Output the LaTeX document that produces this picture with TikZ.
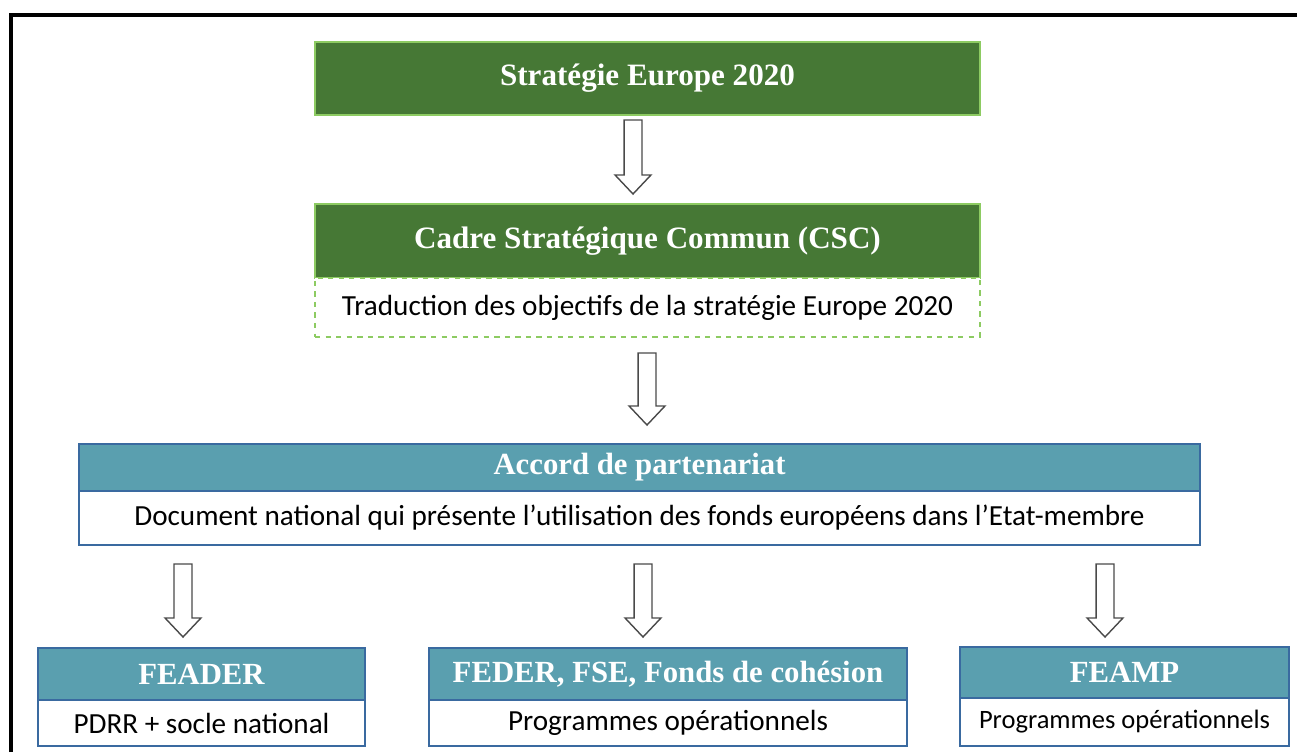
\documentclass[tikz,border=0pt]{standalone}
\usepackage{fontspec}
\setmainfont{Liberation Serif}
\newfontfamily\bodyfont{Carlito}
\usepackage{tikz}
\usetikzlibrary{calc}

\definecolor{darkgreen}{HTML}{467835}
\definecolor{lightgreen}{HTML}{8DCB62}
\definecolor{tealhead}{HTML}{5A9FAF}
\definecolor{boxblue}{HTML}{3A6AA0}
\definecolor{arrowgray}{HTML}{4A4A4A}

% hollow block arrow between two named coordinates
\newcommand{\hollowarrow}[2]{%
  \draw[hollow] let \p1=(#1), \p2=(#2) in
    (\x1-5.1pt,\y1) -- (\x1+5.1pt,\y1) -- (\x1+5.1pt,\y2+10.8pt)
    -- (\x1+10.2pt,\y2+10.8pt) -- (\x2,\y2) -- (\x1-10.2pt,\y2+10.8pt)
    -- (\x1-5.1pt,\y2+10.8pt) -- cycle;}

\begin{document}
\begin{tikzpicture}[x=0.02cm, y=-0.02cm,
    greenhead/.style={draw=lightgreen, line width=0.8pt, fill=darkgreen, text=white,
      font=\fontsize{17.7}{20}\selectfont\bfseries, inner sep=0pt},
    tealhead/.style={draw=boxblue, line width=0.8pt, fill=tealhead, text=white,
      font=\fontsize{17.5}{20}\selectfont\bfseries, inner sep=0pt},
    bluebody/.style={draw=boxblue, line width=0.8pt, fill=white,
      font=\bodyfont\fontsize{16.6}{19}\selectfont, inner sep=0pt},
    dashbody/.style={draw=lightgreen, dashed, line width=0.8pt, fill=white,
      font=\bodyfont\fontsize{16.6}{19}\selectfont, inner sep=0pt},
    hollow/.style={draw=arrowgray, line width=0.8pt, fill=white, line join=miter}]
  \useasboundingbox (0,0) rectangle (1297,752);
  \draw[line width=2pt] (11,752) -- (11,15) -- (1297,15);

  % top part
  \node[greenhead, minimum width=13.3cm, minimum height=1.46cm] (euro) at (647.5,78.5) {Stratégie Europe 2020};
  \node[greenhead, minimum width=13.3cm, minimum height=1.48cm] (csc) at (647.5,241) {Cadre Stratégique Commun (CSC)};
  \node[dashbody, minimum width=13.3cm, minimum height=1.18cm] (trad) at (647.5,307.5) {Traduction des objectifs de la stratégie Europe 2020};

  % accord
  \node[tealhead, minimum width=22.42cm, minimum height=0.94cm] (accord) at (639.5,467.5) {Accord de partenariat};
  \node[bluebody, minimum width=22.42cm, minimum height=1.08cm] (accordtxt) at (639.5,518) {Document national qui présente l’utilisation des fonds européens dans l’Etat-membre};

  % funds
  \node[tealhead, minimum width=6.54cm, minimum height=1.04cm] (feader) at (201.5,674) {FEADER};
  \node[bluebody, minimum width=6.54cm, minimum height=0.92cm] (feadertxt) at (201.5,723) {PDRR + socle national};
  \node[tealhead, minimum width=9.56cm, minimum height=1.04cm] (feder) at (668,674) {FEDER, FSE, Fonds de cohésion};
  \node[bluebody, minimum width=9.56cm, minimum height=0.92cm] (federtxt) at (668,723) {Programmes opérationnels};
  \node[tealhead, minimum width=6.58cm, minimum height=1.02cm] (feamp) at (1124.5,672.5) {FEAMP};
  \node[bluebody, minimum width=6.58cm, minimum height=0.96cm, font=\bodyfont\fontsize{15.1}{17}\selectfont] (feamptxt) at (1124.5,722) {Programmes opérationnels};

  % arrows
  \coordinate (a1s) at (633,120);  \coordinate (a1e) at (633,194);
  \coordinate (a2s) at (647,353);  \coordinate (a2e) at (647,425);
  \coordinate (a3s) at (183,564);  \coordinate (a3e) at (183,637);
  \coordinate (a4s) at (643,564);  \coordinate (a4e) at (643,637);
  \coordinate (a5s) at (1105,564); \coordinate (a5e) at (1105,637);
  \hollowarrow{a1s}{a1e}
  \hollowarrow{a2s}{a2e}
  \hollowarrow{a3s}{a3e}
  \hollowarrow{a4s}{a4e}
  \hollowarrow{a5s}{a5e}
\end{tikzpicture}
\end{document}
